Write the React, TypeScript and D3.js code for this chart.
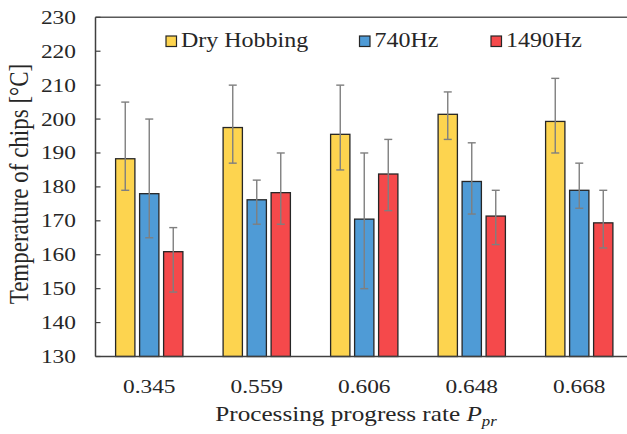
import React from 'react';
import * as d3 from 'd3';

const categories = ['0.345', '0.559', '0.606', '0.648', '0.668'];
const seriesNames = ['Dry Hobbing', '740Hz', '1490Hz'];
const seriesColors = ['#FDD44F', '#4F9BD6', '#F5494B'];

// mean values per series (°C)
const dryValues = [188.3, 197.5, 195.5, 201.4, 199.3];
const hz740Values = [178, 176.2, 170.5, 181.6, 179];
const hz1490Values = [160.9, 178.3, 183.8, 171.4, 169.4];

// error bar ranges [low, high]
const dryErr = [[179, 205], [187, 210], [185, 210], [194, 208], [190, 212]];
const hz740Err = [[165, 200], [169, 182], [150, 190], [172, 193], [173.7, 187]];
const hz1490Err = [[149, 168], [169, 190], [173, 194], [163, 179], [162, 179]];

const yTicks = [130, 140, 150, 160, 170, 180, 190, 200, 210, 220, 230];

const W = 627;
const H = 434;
const FONT = '"Liberation Serif", "Times New Roman", serif';
const SX = 1.2; // the source text is stretched horizontally

const App = () => {
    const x = d3.scaleBand().domain(categories).range([95.5, 633]).padding(0);
    const y = d3.scaleLinear().domain([130, 230]).range([356.5, 17.3]);

    const values = [dryValues, hz740Values, hz1490Values];
    const errs = [dryErr, hz740Err, hz1490Err];
    const barW = 19.3;
    const step = 24;

    const legendX = [166, 359.5, 491];

    return (
        <svg width={W} height={H} style={{ position: 'absolute', left: 0, top: 0, background: '#fff' }}>
            {/* bars */}
            {categories.map((c, ci) => {
                const cx = x(c) + x.bandwidth() / 2;
                return (
                    <g key={c}>
                        {values.map((vals, si) => {
                            const bx = cx + (si - 1) * step - barW / 2;
                            const v = vals[ci];
                            const [lo, hi] = errs[si][ci];
                            const mx = bx + barW / 2;
                            return (
                                <g key={si}>
                                    <rect x={bx} y={y(v)} width={barW} height={y(130) - y(v)}
                                        fill={seriesColors[si]} stroke="#262626" strokeWidth={1.3} />
                                    <line x1={mx} x2={mx} y1={y(lo)} y2={y(hi)} stroke="#7f7f7f" strokeWidth={1.4} />
                                    <line x1={mx - 4} x2={mx + 4} y1={y(hi)} y2={y(hi)} stroke="#7f7f7f" strokeWidth={1.4} />
                                    <line x1={mx - 4} x2={mx + 4} y1={y(lo)} y2={y(lo)} stroke="#7f7f7f" strokeWidth={1.4} />
                                </g>
                            );
                        })}
                    </g>
                );
            })}

            {/* frame */}
            <line x1={95.5} x2={W} y1={y(230)} y2={y(230)} stroke="#595959" strokeWidth={1.5} />
            <line x1={95.5} x2={W} y1={y(130)} y2={y(130)} stroke="#404040" strokeWidth={1.5} />
            <line x1={95.5} x2={95.5} y1={y(230)} y2={y(130)} stroke="#404040" strokeWidth={1.5} />

            {/* y ticks */}
            {yTicks.map(t => (
                <g key={t}>
                    <line x1={95.5} x2={100.5} y1={y(t)} y2={y(t)} stroke="#404040" strokeWidth={1.2} />
                    <text transform={`translate(76,${y(t) + 6.5}) scale(${SX},1)`} textAnchor="end"
                        fontFamily={FONT} fontSize={19.5} fill="#262626">{t}</text>
                </g>
            ))}

            {/* x tick labels */}
            {categories.map(c => (
                <text key={c} transform={`translate(${x(c) + x.bandwidth() / 2},393) scale(${SX},1)`}
                    textAnchor="middle" fontFamily={FONT} fontSize={19.5} fill="#262626">{c}</text>
            ))}

            {/* axis titles */}
            <text transform={`translate(356,421) scale(${SX},1)`} textAnchor="middle"
                fontFamily={FONT} fontSize={21} fill="#262626">
                Processing progress rate <tspan fontStyle="italic">P</tspan>
                <tspan fontStyle="italic" fontSize={14} dy={5}>pr</tspan>
            </text>
            <text transform={`translate(28,184) scale(${SX},1) rotate(-90)`} textAnchor="middle"
                fontFamily={FONT} fontSize={23} fill="#262626">
                Temperature of chips [°C]
            </text>

            {/* legend */}
            {seriesNames.map((n, i) => (
                <g key={n}>
                    <rect x={legendX[i]} y={36} width={10.5} height={10.5}
                        fill={seriesColors[i]} stroke="#262626" strokeWidth={1.2} />
                    <text transform={`translate(${legendX[i] + 15},46.5) scale(${SX},1)`}
                        fontFamily={FONT} fontSize={20} fill="#262626">{n}</text>
                </g>
            ))}
        </svg>
    );
};

export default App;
